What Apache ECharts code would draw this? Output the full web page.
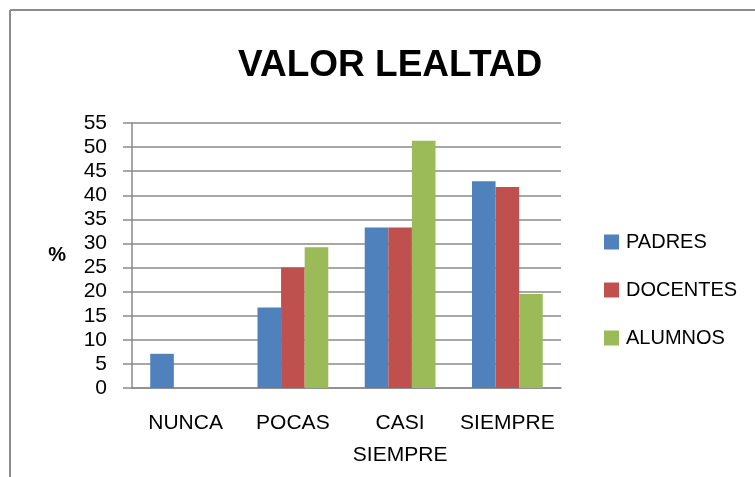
<!DOCTYPE html>
<html>
<head>
<meta charset="utf-8">
<script src="https://cdn.jsdelivr.net/npm/echarts@6/dist/echarts.min.js"></script>
<style>
  html, body { margin: 0; padding: 0; background: #fff; }
  #main { width: 755px; height: 477px; }
</style>
</head>
<body>
<div id="main"></div>
<script>
// datos del grafico
var categorias = ["NUNCA", "POCAS", "CASI\nSIEMPRE", "SIEMPRE"];
var padres = [7.1, 16.7, 33.3, 42.9];
var docentes = [0, 25, 33.3, 41.7];
var alumnos = [0, 29.2, 51.3, 19.5];
var yTicks = { min: 0, max: 55, step: 5 };

var fuente = "'Liberation Sans', Arial, sans-serif";
var gris = "#8a8a8a";

var myChart = echarts.init(document.getElementById("main"));
var option = {
  animation: false,
  title: {
    text: "VALOR LEALTAD",
    left: 233,
    top: 42,
    textStyle: {
      fontFamily: fuente,
      fontSize: 37,
      fontWeight: "bold",
      color: "#000"
    }
  },
  legend: {
    orient: "vertical",
    left: 599,
    top: 227,
    itemWidth: 15,
    itemHeight: 15,
    itemGap: 28,
    icon: "rect",
    textStyle: { fontFamily: fuente, fontSize: 20, color: "#000", padding: [0, 0, 0, 2] },
    data: ["PADRES", "DOCENTES", "ALUMNOS"]
  },
  grid: { left: 132, right: 194, top: 123, bottom: 89 },
  xAxis: {
    type: "category",
    data: categorias,
    axisLine: { lineStyle: { color: gris, width: 1.5 } },
    axisTick: { show: false },
    axisLabel: {
      interval: 0,
      margin: 19,
      fontFamily: fuente,
      fontSize: 21,
      lineHeight: 32,
      color: "#000"
    }
  },
  yAxis: {
    type: "value",
    min: yTicks.min,
    max: yTicks.max,
    interval: yTicks.step,
    name: "%",
    nameLocation: "middle",
    nameRotate: 0,
    nameGap: 66,
    nameTextStyle: { fontFamily: fuente, fontSize: 20, fontWeight: "bold", color: "#000" },
    axisLine: { show: true, lineStyle: { color: gris, width: 1.5 } },
    axisTick: { show: true, length: 9, lineStyle: { color: gris, width: 1.5 } },
    splitLine: { lineStyle: { color: gris, width: 1.5 } },
    axisLabel: { margin: 25, fontFamily: fuente, fontSize: 21, color: "#000" }
  },
  series: [
    { name: "PADRES", type: "bar", data: padres, barGap: "0%", barCategoryGap: "34%",
      itemStyle: { color: "#4F81BD" } },
    { name: "DOCENTES", type: "bar", data: docentes, barGap: "0%", barCategoryGap: "34%",
      itemStyle: { color: "#C0504D" } },
    { name: "ALUMNOS", type: "bar", data: alumnos, barGap: "0%", barCategoryGap: "34%",
      itemStyle: { color: "#9BBB59" } }
  ],
  // marco del grafico
  graphic: [
    { type: "line", shape: { x1: 10, y1: 10, x2: 755, y2: 10 }, style: { stroke: "#8c8c8c", lineWidth: 2 } },
    { type: "line", shape: { x1: 10, y1: 10, x2: 10, y2: 477 }, style: { stroke: "#8c8c8c", lineWidth: 2 } }
  ]
};
myChart.setOption(option);
</script>
</body>
</html>
